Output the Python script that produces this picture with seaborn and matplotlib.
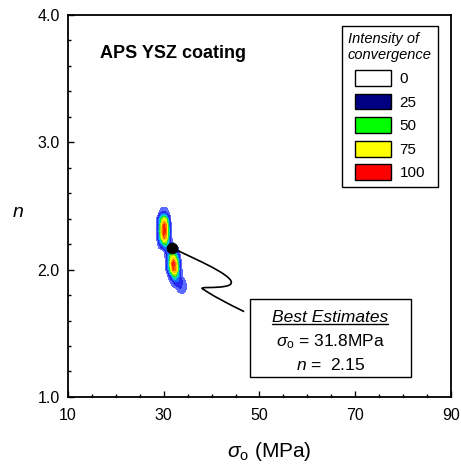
import numpy as np
import matplotlib
matplotlib.use("Agg")
import matplotlib.pyplot as plt
import seaborn as sns
from matplotlib.patches import Patch, Rectangle, PathPatch
from matplotlib.path import Path
from matplotlib.ticker import MultipleLocator, FormatStrFormatter

sns.set_theme(style="white")
plt.rcParams['font.family'] = ['Liberation Sans', 'DejaVu Sans']
plt.rcParams['mathtext.fontset'] = 'custom'
plt.rcParams['mathtext.rm'] = 'Liberation Sans'
plt.rcParams['mathtext.it'] = 'Liberation Sans:italic'
plt.rcParams['text.color'] = 'black'
plt.rcParams['axes.labelcolor'] = 'black'

# grid of convergence intensity
sigma_grid = [28.0, 28.5, 29.0, 29.5, 30.0, 30.5, 31.0, 31.5, 32.0,
              32.5, 33.0, 33.5, 34.0, 34.5, 35.0, 35.5, 36.0]
n_grid = [1.80, 1.85, 1.90, 1.95, 2.00, 2.05, 2.10, 2.15,
          2.20, 2.25, 2.30, 2.35, 2.40, 2.45, 2.50]
intensity = [
    [0, 0, 0, 0, 0, 0, 0, 0, 0, 0, 0, 0, 0, 0, 0, 0, 0],
    [0, 0, 0, 0, 0, 0, 0, 0, 0, 2, 6, 10, 10, 6, 0, 0, 0],
    [0, 0, 0, 0, 0, 0, 0, 4, 10, 18, 18, 14, 10, 4, 0, 0, 0],
    [0, 0, 0, 0, 0, 0, 5, 20, 40, 45, 30, 10, 2, 0, 0, 0, 0],
    [0, 0, 0, 0, 0, 4, 25, 60, 90, 85, 45, 8, 0, 0, 0, 0, 0],
    [0, 0, 0, 0, 0, 5, 30, 70, 100, 80, 40, 6, 0, 0, 0, 0, 0],
    [0, 0, 0, 0, 0, 6, 30, 55, 65, 50, 25, 3, 0, 0, 0, 0, 0],
    [0, 0, 0, 0, 3, 15, 25, 30, 25, 15, 5, 0, 0, 0, 0, 0, 0],
    [0, 0, 8, 25, 40, 40, 30, 12, 3, 0, 0, 0, 0, 0, 0, 0, 0],
    [0, 2, 25, 55, 85, 75, 35, 5, 0, 0, 0, 0, 0, 0, 0, 0, 0],
    [0, 3, 30, 65, 100, 85, 40, 5, 0, 0, 0, 0, 0, 0, 0, 0, 0],
    [0, 3, 28, 60, 95, 80, 35, 4, 0, 0, 0, 0, 0, 0, 0, 0, 0],
    [0, 2, 20, 45, 60, 50, 22, 2, 0, 0, 0, 0, 0, 0, 0, 0, 0],
    [0, 0, 3, 10, 12, 10, 4, 0, 0, 0, 0, 0, 0, 0, 0, 0, 0],
    [0, 0, 0, 0, 0, 0, 0, 0, 0, 0, 0, 0, 0, 0, 0, 0, 0],
]

legend_levels = ["0", "25", "50", "75", "100"]
legend_colors = ["white", "#000080", "#00ff00", "#ffff00", "#ff0000"]

best_sigma = 31.8
best_n = 2.15
dot_sigma = [31.7]
dot_n = [2.17]

x_ticks = [10, 30, 50, 70, 90]
y_ticks = [1.0, 2.0, 3.0, 4.0]

fig = plt.figure(figsize=(4.61, 4.67), dpi=100)
ax = fig.add_axes([0.1475, 0.150, 0.8308, 0.818])

X, Y = np.meshgrid(sigma_grid, n_grid)
Z = np.array(intensity, dtype=float)
levels = [3, 10, 20, 30, 40, 50, 60, 70, 80, 90, 101]
fill_colors = ['#5b6bff', '#2828ee', '#1a6cff', '#00d0d0', '#20e040',
               '#a0f000', '#ffff00', '#ffc000', '#ff7000', '#ff2000']
ax.contourf(X, Y, Z, levels=levels, colors=fill_colors, zorder=2)

# leader line from the best estimate to the box
verts = [(31.7, 2.17), (38.0, 2.06), (46.5, 1.92), (43.5, 1.875),
         (41.0, 1.845), (36.5, 1.875), (38.5, 1.84),
         (40.0, 1.80), (43.0, 1.74), (46.8, 1.67)]
codes = [Path.MOVETO] + [Path.CURVE4] * 9
ax.add_patch(PathPatch(Path(verts, codes), fill=False, lw=1.2,
                       color='black', zorder=3))

sns.scatterplot(x=dot_sigma, y=dot_n, ax=ax, s=60, color='black',
                edgecolor='black', zorder=4, legend=False)

ax.set_xlim(10, 90)
ax.set_ylim(1.0, 4.0)
ax.set_xticks(x_ticks)
ax.set_yticks(y_ticks)
ax.xaxis.set_minor_locator(MultipleLocator(5))
ax.yaxis.set_minor_locator(MultipleLocator(0.2))
ax.yaxis.set_major_formatter(FormatStrFormatter('%.1f'))
ax.tick_params(which='both', direction='in', bottom=True, left=True,
               top=False, right=False, colors='black', width=1)
ax.tick_params(which='major', length=4, labelsize=11.5)
ax.tick_params(which='minor', length=2.5)
ax.tick_params(axis='x', which='major', pad=8)
ax.tick_params(axis='y', which='major', pad=6)
for sp in ax.spines.values():
    sp.set_color('black')
    sp.set_linewidth(1.3)

ax.set_xlabel(r'$\sigma_{\rm o}$ (MPa)', fontsize=15)
ax.xaxis.label.set_va('center')
ax.xaxis.set_label_coords(0.525, -0.143)
ax.set_ylabel('n', fontsize=14, style='italic', rotation=0)
ax.yaxis.set_label_coords(-0.13, 0.46)

ax.text(0.0836, 0.887, 'APS YSZ coating', transform=ax.transAxes,
        fontsize=13, fontweight='bold', va='baseline', ha='left')

handles = [Patch(facecolor=c, edgecolor='black', lw=1) for c in legend_colors]
leg = ax.legend(handles, legend_levels, loc='upper right',
                bbox_to_anchor=(0.966, 0.971), borderaxespad=0,
                title='Intensity of\nconvergence',
                title_fontproperties={'style': 'italic', 'size': 10.5},
                fontsize=11, handlelength=2.35, handleheight=1.2,
                labelspacing=0.5, handletextpad=0.6, borderpad=0.4,
                fancybox=False, framealpha=1, edgecolor='black')
leg.get_frame().set_linewidth(1)

# best estimate box
ax.add_patch(Rectangle((0.475, 0.0524), 0.4206, 0.2041, transform=ax.transAxes,
                       facecolor='white', edgecolor='black', lw=1, zorder=5))
t1 = ax.text(0.685, 0.2068, 'Best Estimates', transform=ax.transAxes,
             fontsize=12.5, style='italic', ha='center', va='center', zorder=6)
ax.text(0.685, 0.144, r'$\sigma_{\rm o}$ = %.1fMPa' % best_sigma,
        transform=ax.transAxes, fontsize=12.5, ha='center', va='center', zorder=6)
ax.text(0.685, 0.0838, r'$n$ =  %.2f' % best_n,
        transform=ax.transAxes, fontsize=12.5, ha='center', va='center', zorder=6)

fig.canvas.draw()
bb = t1.get_window_extent(fig.canvas.get_renderer())
inv = ax.transAxes.inverted()
(ux0, uy), (ux1, _) = inv.transform([(bb.x0, bb.y0 + 1.5), (bb.x1, bb.y0 + 1.5)])
ax.plot([ux0, ux1], [uy, uy], transform=ax.transAxes, color='black',
        lw=1, zorder=6)

fig.savefig('out.png', dpi=100)
